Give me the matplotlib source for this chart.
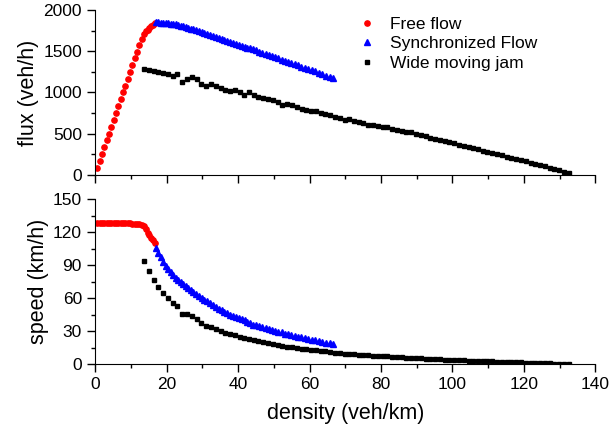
import matplotlib
matplotlib.use("Agg")
import matplotlib.pyplot as plt
from matplotlib.ticker import MultipleLocator

plt.rcParams['font.family'] = ['Liberation Sans', 'DejaVu Sans']

# free flow branch
free_density = [0.65, 1.3, 1.95, 2.6, 3.25, 3.9, 4.55, 5.2, 5.85, 6.5,
                7.15, 7.8, 8.45, 9.1, 9.75, 10.4, 11.05, 11.7, 12.35, 13.0,
                13.6, 14.2, 14.7, 15.2, 15.7, 16.2, 16.7]
free_flux = [84, 167, 251, 335, 418, 502, 585, 668, 751, 835,
             917, 1001, 1083, 1166, 1248, 1330, 1412, 1493, 1572, 1648,
             1707, 1740, 1757, 1778, 1806, 1823, 1845]
free_speed = [128.8, 128.8, 128.7, 128.7, 128.6, 128.6, 128.5, 128.5, 128.4, 128.4,
              128.3, 128.3, 128.2, 128.1, 128.0, 127.9, 127.8, 127.6, 127.3, 126.8,
              125.5, 122.5, 119.5, 117.0, 115.0, 112.5, 110.5]

# synchronized flow branch
sync_density = [17.0, 17.7, 18.4, 19.1, 19.8, 20.5, 21.2, 21.9, 22.6, 23.3,
                24.0, 24.7, 25.4, 26.1, 26.8, 27.5, 28.2, 29.0, 29.8, 30.6,
                31.4, 32.2, 33.0, 33.8, 34.6, 35.4, 36.2, 37.0, 37.8, 38.6,
                39.4, 40.2, 41.0, 41.8, 42.6, 43.4, 44.2, 45.0, 45.9, 46.8,
                47.7, 48.6, 49.5, 50.4, 51.3, 52.2, 53.1, 54.0, 54.9, 55.8,
                56.7, 57.6, 58.6, 59.6, 60.6, 61.6, 62.6, 63.6, 64.6, 65.6, 66.6]
sync_flux = [1852, 1850, 1848, 1846, 1843, 1840, 1836, 1831, 1825, 1818,
             1810, 1800, 1792, 1783, 1774, 1764, 1755, 1744, 1733, 1722,
             1711, 1699, 1687, 1675, 1663, 1651, 1640, 1628, 1616, 1604,
             1592, 1580, 1568, 1556, 1545, 1533, 1521, 1509, 1495, 1481,
             1467, 1453, 1440, 1426, 1412, 1398, 1384, 1370, 1356, 1342,
             1328, 1314, 1299, 1284, 1269, 1254, 1238, 1222, 1205, 1188, 1170]
sync_speed = [106, 101, 97, 93, 89.5, 86.5, 83.5, 81, 78.5, 76.5,
              74.5, 73, 71, 69, 67, 65.5, 64, 62, 60.5, 58.5,
              57, 55.5, 54, 52, 50.5, 49, 47.5, 46.5, 45, 44,
              43, 42, 41, 40, 38.5, 37, 36, 35.3, 34.5, 33.6,
              32.8, 32, 31.2, 30.4, 29.6, 28.8, 27.6, 27, 26.3, 25.6,
              25, 24.3, 23.6, 22.9, 22.2, 21.5, 20.8, 20.1, 19.4, 18.8, 18.2]

# wide moving jam branch
jam_density = [13.7, 15.0, 16.4, 17.7, 19.0, 20.4, 21.7, 23.0, 24.4, 25.7,
               27.1, 28.4, 29.7, 31.1, 32.4, 33.7, 35.1, 36.4, 37.7, 39.1,
               40.4, 41.7, 43.1, 44.4, 45.7, 47.1, 48.4, 49.7, 51.1, 52.4,
               53.8, 55.1, 56.4, 57.8, 59.1, 60.4, 61.8, 63.1, 64.4, 65.8,
               67.1, 68.4, 69.8, 71.1, 72.4, 73.8, 75.1, 76.4, 77.8, 79.1,
               80.5, 81.8, 83.1, 84.5, 85.8, 87.1, 88.5, 89.8, 91.1, 92.5,
               93.8, 95.1, 96.5, 97.8, 99.1, 100.5, 101.8, 103.2, 104.5, 105.8,
               107.2, 108.5, 109.8, 111.2, 112.5, 113.8, 115.2, 116.5, 117.8, 119.2,
               120.5, 121.9, 123.2, 124.5, 125.9, 127.2, 128.5, 129.9, 131.2, 132.5]
jam_flux = [1285, 1273, 1261, 1245, 1232, 1224, 1204, 1224, 1123, 1164,
            1188, 1164, 1103, 1079, 1099, 1083, 1051, 1030, 1018, 1034,
            1010, 975, 1005, 968, 942, 930, 925, 905, 885, 850,
            855, 845, 820, 800, 790, 770, 778, 745, 740, 722,
            700, 690, 665, 680, 655, 642, 628, 610, 608, 590,
            575, 580, 555, 545, 530, 515, 520, 495, 480, 468,
            452, 440, 425, 410, 398, 385, 368, 352, 338, 325,
            310, 295, 282, 268, 252, 238, 222, 208, 194, 178,
            163, 148, 134, 118, 104, 88, 72, 55, 38, 20]
jam_speed = [93.8, 84.9, 76.9, 70.3, 64.8, 60.0, 55.5, 53.2, 46.0, 45.3,
             43.8, 41.0, 37.1, 34.7, 33.9, 32.1, 29.9, 28.3, 27.0, 26.4,
             25.0, 23.4, 23.3, 21.8, 20.6, 19.7, 19.1, 18.2, 17.3, 16.2,
             15.9, 15.3, 14.5, 13.8, 13.4, 12.7, 12.6, 11.8, 11.5, 11.0,
             10.4, 10.1, 9.5, 9.6, 9.0, 8.7, 8.4, 8.0, 7.8, 7.5,
             7.1, 7.1, 6.7, 6.4, 6.2, 5.9, 5.9, 5.5, 5.3, 5.1,
             4.8, 4.6, 4.4, 4.2, 4.0, 3.8, 3.6, 3.4, 3.2, 3.1,
             2.9, 2.7, 2.6, 2.4, 2.2, 2.1, 1.9, 1.8, 1.6, 1.5,
             1.4, 1.2, 1.1, 0.95, 0.83, 0.69, 0.56, 0.42, 0.29, 0.15]


def style_axis(ax):
    ax.spines['top'].set_visible(False)
    ax.spines['right'].set_visible(False)
    ax.set_xlim(0, 140)
    ax.xaxis.set_major_locator(MultipleLocator(20))
    ax.xaxis.set_minor_locator(MultipleLocator(10))
    ax.tick_params(which='major', direction='out', length=6, width=1, labelsize=12.5)
    ax.tick_params(which='minor', direction='out', length=3, width=1)


fig = plt.figure(figsize=(6.1, 4.34), dpi=100)
ax1 = fig.add_axes([0.156, 0.597, 0.820, 0.380])
ax2 = fig.add_axes([0.156, 0.161, 0.820, 0.380])

ax1.plot(free_density, free_flux, 'o', color='red', markersize=3.8, label='Free flow')
ax1.plot(sync_density, sync_flux, '^', color='blue', markersize=3.8, label='Synchronized Flow')
ax1.plot(jam_density, jam_flux, 's', color='black', markersize=3.2, label='Wide moving jam')
style_axis(ax1)
ax1.set_ylim(0, 2000)
ax1.yaxis.set_major_locator(MultipleLocator(500))
ax1.yaxis.set_minor_locator(MultipleLocator(250))
ax1.tick_params(axis='x', labelbottom=False)
ax1.set_ylabel('flux (veh/h)', fontsize=15.5, labelpad=3)
ax1.legend(loc='upper left', bbox_to_anchor=(0.494, 1.055), frameon=False,
           fontsize=12.5, handlelength=1.0, handletextpad=0.85,
           labelspacing=0.25, borderpad=0.4)

ax2.plot(free_density, free_speed, 'o', color='red', markersize=3.8)
ax2.plot(sync_density, sync_speed, '^', color='blue', markersize=3.8)
ax2.plot(jam_density, jam_speed, 's', color='black', markersize=3.2)
style_axis(ax2)
ax2.set_ylim(0, 150)
ax2.yaxis.set_major_locator(MultipleLocator(30))
ax2.yaxis.set_minor_locator(MultipleLocator(15))
ax2.set_ylabel('speed (km/h)', fontsize=15.5, labelpad=3)
ax2.set_xlabel('density (veh/km)', fontsize=15.5, labelpad=8)

fig.align_ylabels([ax1, ax2])
fig.savefig('out.png', dpi=100)
